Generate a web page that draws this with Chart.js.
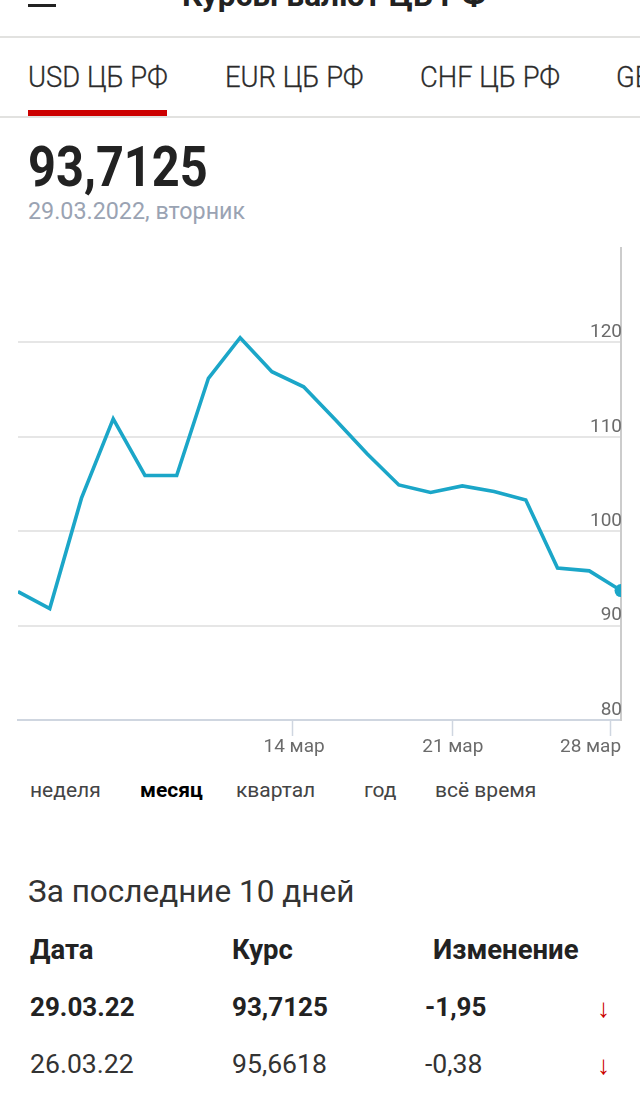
<!DOCTYPE html>
<html lang="ru"><head><meta charset="utf-8">
<script src="https://cdn.jsdelivr.net/npm/chart.js@4"></script>
<style>
html,body{margin:0;padding:0;background:#fff;overflow:hidden}
body{width:640px;height:1105px;position:relative;font-family:Roboto,sans-serif;color:#222}
.t{position:absolute;white-space:nowrap;line-height:1;transform:translateY(-50%);transform-origin:left center}
.r{position:absolute}
canvas{position:absolute;left:0;top:240px}
.tab{font-size:29px;color:#2b2b2b;font-weight:300;-webkit-text-stroke:.3px #2b2b2b;transform:translateY(-50%) scaleX(.945)}
</style></head><body>
<div class="r" style="left:28px;top:4px;width:28px;height:3px;background:#222"></div>
<div class="t" style="left:182px;top:-4px;font-size:31.7px;font-weight:700">Курсы валют ЦБ РФ</div>
<div class="r" style="left:0;top:36px;width:640px;height:2px;background:#e2e2e0"></div>
<div class="t tab" style="left:28px;top:77px">USD ЦБ РФ</div>
<div class="t tab" style="left:225px;top:77px">EUR ЦБ РФ</div>
<div class="t tab" style="left:420px;top:77px">CHF ЦБ РФ</div>
<div class="t tab" style="left:616px;top:77px">GBP ЦБ РФ</div>
<div class="r" style="left:0;top:116px;width:640px;height:2px;background:#e2e2e0"></div>
<div class="r" style="left:28px;top:110px;width:139px;height:6px;background:#cc0000"></div>
<div class="t" style="left:28px;top:167px;font-size:56px;font-weight:700;transform:translateY(-50%) scaleX(.87)">93,7125</div>
<div class="t" style="left:28px;top:212px;font-size:23.3px;color:#9aa3b3">29.03.2022, вторник</div>
<canvas id="c" width="640" height="530"></canvas>
<div class="t" style="left:30px;top:790px;font-size:21px;color:#444">неделя</div>
<div class="t" style="left:140px;top:790px;font-size:21px;font-weight:700;color:#000">месяц</div>
<div class="t" style="left:236px;top:790px;font-size:21px;color:#444">квартал</div>
<div class="t" style="left:364px;top:790px;font-size:21px;color:#444">год</div>
<div class="t" style="left:435px;top:790px;font-size:21px;color:#444">всё время</div>
<div class="t" style="left:28px;top:892px;font-size:31.5px;color:#333">За последние 10 дней</div>
<div class="t" style="left:30px;top:950px;font-size:27.5px;font-weight:700">Дата</div>
<div class="t" style="left:232px;top:950px;font-size:27.5px;font-weight:700">Курс</div>
<div class="t" style="left:433px;top:950px;font-size:27.5px;font-weight:700">Изменение</div>
<div class="t" style="left:30px;top:1007px;font-size:26px;font-weight:700">29.03.22</div>
<div class="t" style="left:232px;top:1007px;font-size:26px;font-weight:700">93,7125</div>
<div class="t" style="left:425px;top:1007px;font-size:26px;font-weight:700">-1,95</div>
<div class="t" style="left:597px;top:1008px;font-size:26px;font-weight:700;color:#cc0000">↓</div>
<div class="t" style="left:30px;top:1064px;font-size:26.6px;color:#333">26.03.22</div>
<div class="t" style="left:232px;top:1064px;font-size:26.6px;color:#333">95,6618</div>
<div class="t" style="left:425px;top:1064px;font-size:26.6px;color:#333">-0,38</div>
<div class="t" style="left:597px;top:1065px;font-size:26px;color:#cc0000">↓</div>
<script>
const rates = [93.6,91.8,103.5,111.9,105.9,105.9,116.2,120.5,116.9,115.3,111.8,108.2,104.9,104.1,104.8,104.2,103.3,96.1,95.8,93.7125];
const yTicks = [80,90,100,110,120];
const xTickMarks = [8.65,13.68,18.68];
const xTickLabelAnchors = [8.7,13.7,18.04];
const xTickLabels = ['14 мар','21 мар','28 мар'];
const font = {family:'Roboto, sans-serif',size:19};
const noPad = s => {s.paddingLeft=0;s.paddingRight=0;s.paddingTop=0;s.paddingBottom=0;};
new Chart(document.getElementById('c'),{
  type:'line',
  data:{datasets:[{
    data:rates.map((y,x)=>({x,y})),
    borderColor:'#1ba6c8',backgroundColor:'#1ba6c8',borderWidth:3.6,tension:0,fill:false,clip:0,
    pointRadius:ctx=>ctx.dataIndex===rates.length-1?6.5:0,
    pointBackgroundColor:'#1ba6c8',pointBorderWidth:0,borderJoinStyle:'miter'
  }]},
  options:{
    responsive:false,animation:false,devicePixelRatio:1,
    layout:{padding:{left:18,right:19,top:8,bottom:0}},
    plugins:{legend:{display:false},tooltip:{enabled:false}},
    scales:{
      x:{type:'linear',position:'bottom',min:0,max:19,weight:0,
        grid:{drawOnChartArea:false,drawTicks:true,tickLength:16,tickColor:'#cfd6e0',tickWidth:1.5},
        border:{display:true,color:'#cfd6e0',width:2},
        ticks:{display:false,autoSkip:false},
        afterBuildTicks:s=>{s.ticks=xTickMarks.map(value=>({value}));},
        afterFit:s=>{s.height=16;noPad(s);}
      },
      xLabels:{type:'linear',position:'bottom',min:0,max:19,weight:1,
        grid:{display:false,drawTicks:false,tickLength:0},border:{display:false},
        ticks:{autoSkip:false,maxRotation:0,padding:0,color:'#6b6b6b',font,
          callback:v=>xTickLabels[xTickLabelAnchors.indexOf(v)]},
        afterBuildTicks:s=>{s.ticks=xTickLabelAnchors.map(value=>({value}));},
        afterFit:s=>{s.height=34;noPad(s);}
      },
      y:{type:'linear',position:'right',min:80,max:130,
        grid:{color:'#e6e6e6',lineWidth:2,drawTicks:false},
        border:{display:true,color:'#cccccc',width:2},
        ticks:{mirror:true,padding:1,labelOffset:-10,color:'#6b6b6b',font},
        afterBuildTicks:s=>{s.ticks=yTicks.map(value=>({value}));},
        afterFit:s=>{s.width=0;noPad(s);}
      }
    }
  }
});
</script>
</body></html>
